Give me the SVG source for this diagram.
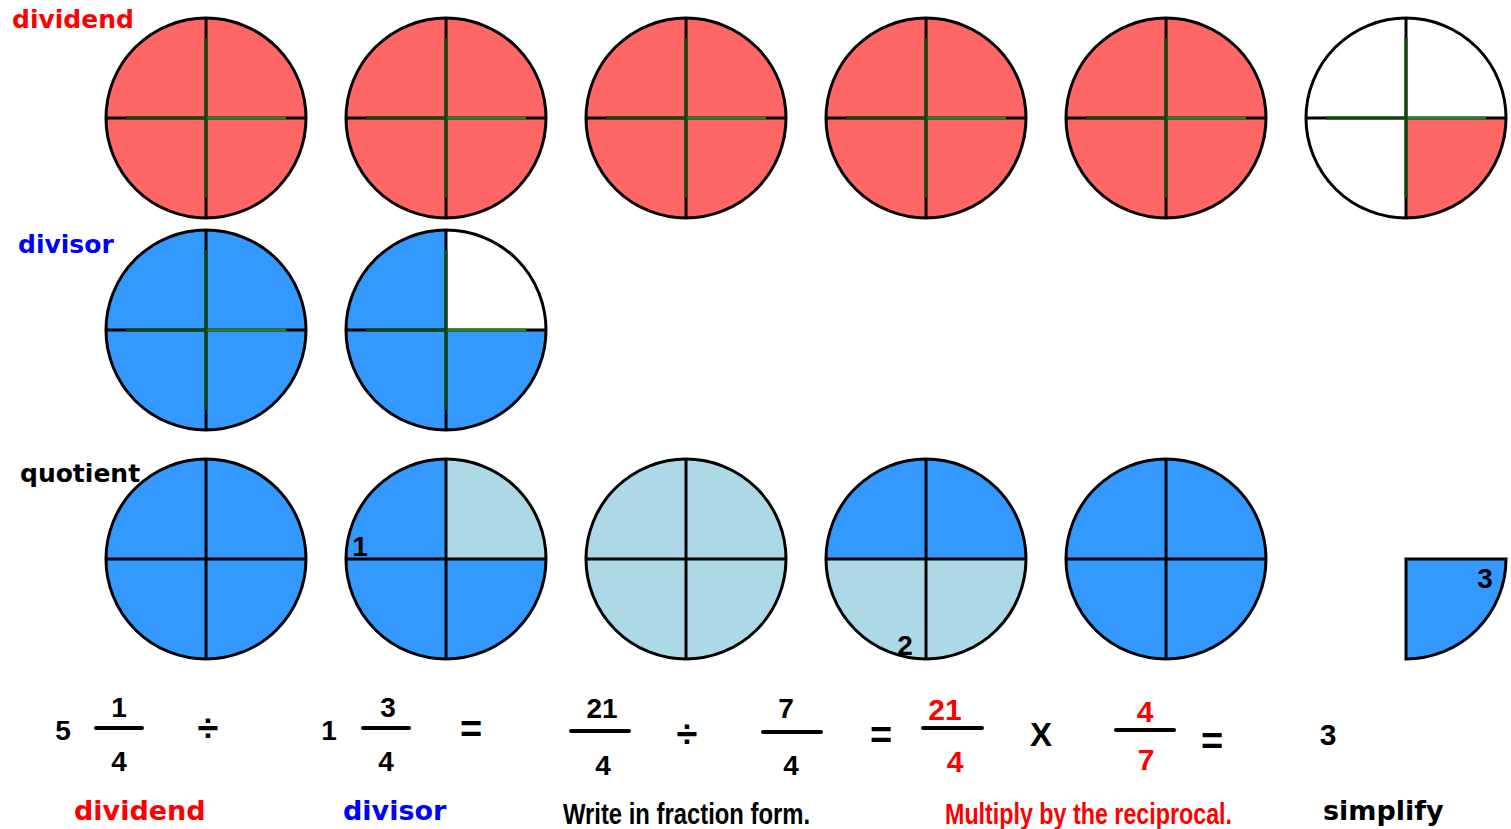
<svg xmlns="http://www.w3.org/2000/svg" xmlns:xlink="http://www.w3.org/1999/xlink" width="1511" height="829" viewBox="0 0 1511 829">
<style>
.ol{fill:none;stroke:#000;stroke-width:3}
.bk{stroke:#000;stroke-width:3}
.gd{stroke:#0e4a0e;stroke-width:3}
.gl{stroke:#2b7f2b;stroke-width:3}
.red{fill:#ff6666}
.blue{fill:#3399ff}
.lb{fill:#add8e6}
.wh{fill:#fff}
.lbl{font-family:"DejaVu Sans",Verdana,sans-serif;font-weight:bold}
.eq{font-family:"Liberation Sans",Arial,sans-serif;font-weight:bold;text-anchor:middle}
.num{font-family:"Liberation Sans",Arial,sans-serif;font-weight:bold;text-anchor:middle;font-size:28px}
.nar{font-family:"Liberation Sans Narrow","Liberation Sans",Arial,sans-serif;font-size:30px;font-weight:bold}
.bar{stroke:#000;stroke-width:4;stroke-linecap:round}
</style>
<defs>
<path id="qtr" d="M0 0 L0 -100 A100 100 0 0 1 100 0 Z"/>
<path id="qbr" d="M0 0 L100 0 A100 100 0 0 1 0 100 Z"/>
<path id="qbl" d="M0 0 L0 100 A100 100 0 0 1 -100 0 Z"/>
<path id="qtl" d="M0 0 L-100 0 A100 100 0 0 1 0 -100 Z"/>
<g id="gcross">
<line class="bk" x1="-100" y1="0" x2="100" y2="0"/>
<line class="bk" x1="0" y1="-100" x2="0" y2="100"/>
<line class="gd" x1="-80" y1="0" x2="0" y2="0"/>
<line class="gl" x1="0" y1="0" x2="80" y2="0"/>
<line class="gd" x1="0" y1="-80" x2="0" y2="80"/>
</g>
<g id="bcross">
<line class="bk" x1="-100" y1="0" x2="100" y2="0"/>
<line class="bk" x1="0" y1="-100" x2="0" y2="100"/>
</g>
</defs>
<rect width="1511" height="829" fill="#fff"/>

<g id="labels">
<text class="lbl" x="12" y="28" font-size="25" fill="#ff0000">dividend</text>
<text class="lbl" x="18" y="253" font-size="25" fill="#0000ff">divisor</text>
<text class="lbl" x="20" y="482" font-size="25" fill="#000">quotient</text>
</g>

<g id="dividend-1" transform="translate(206,118)"><circle r="100" class="red"/><use xlink:href="#gcross"/><circle r="100" class="ol"/></g>
<g id="dividend-2" transform="translate(446,118)"><circle r="100" class="red"/><use xlink:href="#gcross"/><circle r="100" class="ol"/></g>
<g id="dividend-3" transform="translate(686,118)"><circle r="100" class="red"/><use xlink:href="#gcross"/><circle r="100" class="ol"/></g>
<g id="dividend-4" transform="translate(926,118)"><circle r="100" class="red"/><use xlink:href="#gcross"/><circle r="100" class="ol"/></g>
<g id="dividend-5" transform="translate(1166,118)"><circle r="100" class="red"/><use xlink:href="#gcross"/><circle r="100" class="ol"/></g>
<g id="dividend-6" transform="translate(1406,118)"><circle r="100" class="wh"/><use xlink:href="#qbr" class="red"/><use xlink:href="#gcross"/><circle r="100" class="ol"/></g>

<g id="divisor-1" transform="translate(206,330)"><circle r="100" class="blue"/><use xlink:href="#gcross"/><circle r="100" class="ol"/></g>
<g id="divisor-2" transform="translate(446,330)"><circle r="100" class="blue"/><use xlink:href="#qtr" class="wh"/><use xlink:href="#gcross"/><circle r="100" class="ol"/></g>

<g id="quotient-1" transform="translate(206,559)"><circle r="100" class="blue"/><use xlink:href="#bcross"/><circle r="100" class="ol"/></g>
<g id="quotient-2" transform="translate(446,559)"><circle r="100" class="blue"/><use xlink:href="#qtr" class="lb"/><use xlink:href="#bcross"/><circle r="100" class="ol"/><text class="num" x="-86" y="-3">1</text></g>
<g id="quotient-3" transform="translate(686,559)"><circle r="100" class="lb"/><use xlink:href="#bcross"/><circle r="100" class="ol"/></g>
<g id="quotient-4" transform="translate(926,559)"><circle r="100" class="blue"/><use xlink:href="#qbr" class="lb"/><use xlink:href="#qbl" class="lb"/><use xlink:href="#bcross"/><circle r="100" class="ol"/><text class="num" x="-21" y="96">2</text></g>
<g id="quotient-5" transform="translate(1166,559)"><circle r="100" class="blue"/><use xlink:href="#bcross"/><circle r="100" class="ol"/></g>
<g id="quotient-6" transform="translate(1406,559)"><path d="M0 100 L0 0 L100 0 A100 100 0 0 1 0 100 Z" class="blue" stroke="#000" stroke-width="3"/><text class="num" x="79" y="29">3</text></g>

<g id="equation">
<text class="eq" x="63" y="740" font-size="28">5</text>
<text class="eq" x="119" y="717" font-size="28">1</text>
<line class="bar" x1="96" y1="728" x2="142" y2="728"/>
<text class="eq" x="119" y="771" font-size="28">4</text>
<text class="eq" x="208" y="741" font-size="38">÷</text>
<text class="eq" x="329" y="740" font-size="28">1</text>
<text class="eq" x="388" y="717" font-size="28">3</text>
<line class="bar" x1="363" y1="728" x2="409" y2="728"/>
<text class="eq" x="386" y="771" font-size="28">4</text>
<text class="eq" x="471" y="742" font-size="38">=</text>
<text class="eq" x="602" y="718" font-size="28">21</text>
<line class="bar" x1="571" y1="731" x2="629" y2="731"/>
<text class="eq" x="603" y="775" font-size="28">4</text>
<text class="eq" x="687" y="747" font-size="38">÷</text>
<text class="eq" x="786" y="718" font-size="28">7</text>
<line class="bar" x1="763" y1="732" x2="821" y2="732"/>
<text class="eq" x="791" y="775" font-size="28">4</text>
<text class="eq" x="881" y="748" font-size="38">=</text>
<text class="eq" x="945" y="720" font-size="30" fill="#ff0000">21</text>
<line class="bar" x1="923" y1="728" x2="982" y2="728"/>
<text class="eq" x="955" y="772" font-size="30" fill="#ff0000">4</text>
<text class="eq" x="1041" y="746" font-size="33">X</text>
<text class="eq" x="1145" y="722" font-size="30" fill="#ff0000">4</text>
<line class="bar" x1="1116" y1="730" x2="1174" y2="730"/>
<text class="eq" x="1146" y="770" font-size="30" fill="#ff0000">7</text>
<text class="eq" x="1212" y="754" font-size="38">=</text>
<text class="eq" x="1328" y="745" font-size="30">3</text>
</g>

<g id="captions">
<text class="lbl" x="74" y="820" font-size="27" fill="#ff0000">dividend</text>
<text class="lbl" x="343" y="820" font-size="27" fill="#0000ff">divisor</text>
<text class="nar" x="563" y="824" textLength="247" lengthAdjust="spacingAndGlyphs" fill="#000">Write in fraction form.</text>
<text class="nar" x="945" y="824" textLength="287" lengthAdjust="spacingAndGlyphs" fill="#ff0000">Multiply by the reciprocal.</text>
<text class="lbl" x="1323" y="820" font-size="27" fill="#000">simplify</text>
</g>
</svg>
